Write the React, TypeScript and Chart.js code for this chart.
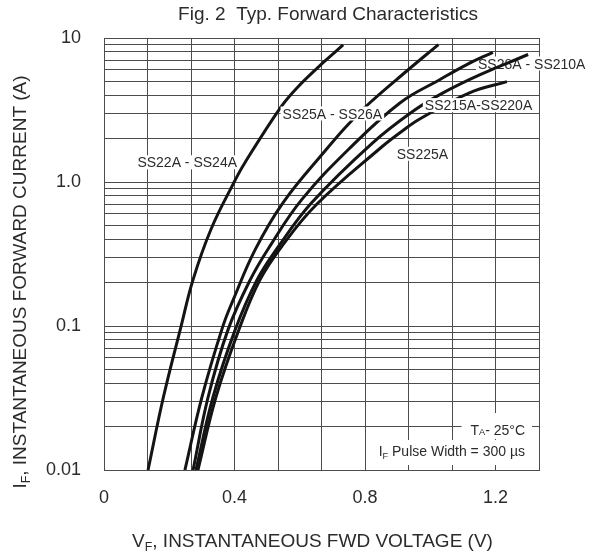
import { useEffect, useRef } from 'react';
import { Chart, registerables } from 'chart.js';

Chart.register(...registerables);

const FONT = "'Liberation Sans', Arial, Helvetica, sans-serif";
const INK = '#2b2b2b';
const GRID = '#4c4c4c';
const CURVE = '#141414';

// ---- axes ----
const xMax = 4 / 3; // 10 grid divisions of 0.1333 V
const xGridDivisions = 10;
const xTickLabels = ['0', '0.4', '0.8', '1.2']; // every 3rd grid line
const yMin = 0.01;
const yMax = 10;
const yDecadeLabels = ['0.01', '0.1', '1.0', '10'];

// ---- series (V, A) ----
const ss22Volts = [0.135, 0.182, 0.236, 0.273, 0.328, 0.398, 0.43, 0.542, 0.592, 0.668, 0.733];
const ss22Amps = [0.01, 0.032, 0.099, 0.21, 0.47, 0.99, 1.34, 3.31, 4.52, 6.63, 8.95];

const ss25Volts = [0.248, 0.3, 0.364, 0.396, 0.463, 0.549, 0.683, 0.744, 0.815, 0.928, 1.025];
const ss25Amps = [0.01, 0.032, 0.099, 0.152, 0.338, 0.72, 1.7, 2.45, 3.55, 5.9, 9.0];

const ss28Volts = [0.273, 0.319, 0.38, 0.448, 0.509, 0.606, 0.749, 0.907, 1.03, 1.112, 1.192];
const ss28Amps = [0.01, 0.032, 0.094, 0.209, 0.36, 0.754, 1.68, 3.54, 5.15, 6.54, 7.96];

const ss215Volts = [0.282, 0.334, 0.402, 0.469, 0.536, 0.637, 0.821, 0.947, 1.039, 1.153, 1.3];
const ss215Amps = [0.01, 0.032, 0.094, 0.209, 0.36, 0.72, 1.85, 3.1, 4.16, 5.57, 7.68];

const ss225Volts = [0.288, 0.343, 0.414, 0.478, 0.546, 0.652, 0.851, 0.907, 0.969, 1.122, 1.235];
const ss225Amps = [0.01, 0.032, 0.095, 0.209, 0.36, 0.7, 1.75, 2.2, 2.75, 4.18, 4.98];

const seriesNames = ['SS22A - SS24A', 'SS25A - SS26A', 'SS28A - SS210A', 'SS215A-SS220A', 'SS225A'];
const seriesVolts = [ss22Volts, ss25Volts, ss28Volts, ss215Volts, ss225Volts];
const seriesAmps = [ss22Amps, ss25Amps, ss28Amps, ss215Amps, ss225Amps];

// curve label anchors in data units (V, A)
const labelVolts = [0.255, 0.7, 1.311, 1.148, 0.976];
const labelAmps = [1.37, 2.99, 6.65, 3.42, 1.57];
const labelInFront = [false, true, false, true, false];

type Seg = { t: string; k?: 'sub' | 'small' };

const titleText: Seg[] = [{ t: 'Fig. 2  Typ. Forward Characteristics' }];
const yTitle: Seg[] = [{ t: 'I' }, { t: 'F', k: 'sub' }, { t: ', INSTANTANEOUS FORWARD CURRENT (A)' }];
const xTitle: Seg[] = [{ t: 'V' }, { t: 'F', k: 'sub' }, { t: ', INSTANTANEOUS FWD VOLTAGE (V)' }];
const noteTemp: Seg[] = [{ t: 'T' }, { t: 'A', k: 'small' }, { t: '- 25°C' }];
const notePulse: Seg[] = [{ t: 'I' }, { t: 'F', k: 'sub' }, { t: ' Pulse Width = 300 µs' }];

function segFont(size: number, k?: string) {
  return `${k ? size * 0.65 : size}px ${FONT}`;
}
function measureRich(ctx: CanvasRenderingContext2D, segs: Seg[], size: number) {
  let w = 0;
  for (const s of segs) {
    ctx.font = segFont(size, s.k);
    w += ctx.measureText(s.t).width;
  }
  return w;
}
function drawRich(
  ctx: CanvasRenderingContext2D,
  segs: Seg[],
  x: number,
  yMid: number,
  size: number,
  align: 'left' | 'center' | 'right',
  bg?: { l: number; r: number; t: number; b: number }
) {
  const w = measureRich(ctx, segs, size);
  let cx = align === 'left' ? x : align === 'center' ? x - w / 2 : x - w;
  if (bg) {
    ctx.fillStyle = '#ffffff';
    ctx.fillRect(cx - bg.l, yMid - bg.t, w + bg.l + bg.r, bg.t + bg.b);
  }
  const base = yMid + size * 0.358;
  ctx.fillStyle = INK;
  ctx.textAlign = 'left';
  ctx.textBaseline = 'alphabetic';
  for (const s of segs) {
    ctx.font = segFont(size, s.k);
    const dy = s.k === 'sub' ? size * 0.2 : s.k === 'small' ? size * 0.03 : 0;
    ctx.fillText(s.t, cx, base + dy);
    cx += ctx.measureText(s.t).width;
  }
}

function drawCurveLabels(chart: Chart, front: boolean) {
  const ctx = chart.ctx;
  const xs = chart.scales.x;
  const ys = chart.scales.y;
  ctx.save();
  seriesNames.forEach((name, i) => {
    if (labelInFront[i] !== front) return;
    const px = xs.getPixelForValue(labelVolts[i]);
    const py = ys.getPixelForValue(labelAmps[i]);
    drawRich(ctx, [{ t: name }], px, py, 14, 'center', { l: 2, r: 2, t: 7, b: 7 });
  });
  if (!front) {
    const area = chart.chartArea;
    const right = area.right - 14;
    drawRich(ctx, notePulse, right, area.bottom - 19, 14, 'right', { l: 12, r: 7, t: 11, b: 14 });
    drawRich(ctx, noteTemp, right, area.bottom - 40, 14, 'right', { l: 9, r: 7, t: 17, b: 9 });
  }
  ctx.restore();
}

const textPlugin = {
  id: 'figText',
  beforeDatasetsDraw(chart: Chart) {
    drawCurveLabels(chart, false);
  },
  afterDatasetsDraw(chart: Chart) {
    drawCurveLabels(chart, true);
  },
  afterDraw(chart: Chart) {
    const ctx = chart.ctx;
    ctx.save();
    drawRich(ctx, titleText, 328, 13.5, 19, 'center');
    drawRich(ctx, xTitle, 312.5, 540.5, 19, 'center');
    ctx.translate(19.5, 282);
    ctx.rotate(-Math.PI / 2);
    drawRich(ctx, yTitle, 0, 0, 19, 'center');
    ctx.restore();
  },
};

export default function App() {
  const ref = useRef<HTMLCanvasElement | null>(null);

  useEffect(() => {
    if (!ref.current) return;
    const datasets = seriesNames.map((name, i) => ({
      label: name,
      data: seriesVolts[i].map((v, j) => ({ x: v, y: seriesAmps[i][j] })),
      borderColor: CURVE,
      borderWidth: 3,
      pointRadius: 0,
      fill: false,
      tension: 0.4,
    }));

    const chart = new Chart(ref.current, {
      type: 'line',
      data: { datasets },
      options: {
        animation: false,
        responsive: false,
        maintainAspectRatio: false,
        layout: { padding: { left: 0, right: 59, top: 38, bottom: 0 } },
        plugins: {
          legend: { display: false },
          tooltip: { enabled: false },
          title: { display: false },
        },
        scales: {
          x: {
            type: 'linear',
            min: 0,
            max: xMax,
            afterBuildTicks: (scale: any) => {
              scale.ticks = Array.from({ length: xGridDivisions + 1 }, (_, k) => ({
                value: (k * xMax) / xGridDivisions,
              }));
            },
            afterFit: (scale: any) => {
              scale.height = 86;
            },
            grid: { color: GRID, lineWidth: 1, drawTicks: false },
            border: { display: true, color: GRID, width: 1 },
            ticks: {
              autoSkip: false,
              maxRotation: 0,
              padding: 17,
              color: INK,
              font: { family: FONT, size: 18 },
              callback: (_v: any, index: number) => (index % 3 === 0 ? xTickLabels[index / 3] ?? '' : ''),
            },
          },
          y: {
            type: 'logarithmic',
            min: yMin,
            max: yMax,
            afterBuildTicks: (scale: any) => {
              const t: { value: number }[] = [];
              for (let e = -2; e <= 0; e++) {
                for (let m = 1; m <= 9; m++) t.push({ value: parseFloat((m * Math.pow(10, e)).toPrecision(6)) });
              }
              t.push({ value: yMax });
              scale.ticks = t;
            },
            afterFit: (scale: any) => {
              scale.width = 104;
            },
            grid: { color: GRID, lineWidth: 1, drawTicks: false },
            border: { display: true, color: GRID, width: 1 },
            ticks: {
              autoSkip: false,
              padding: 23,
              color: INK,
              font: { family: FONT, size: 18 },
              callback: (v: any) => {
                const l = Math.log10(Number(v));
                const r = Math.round(l);
                return Math.abs(l - r) < 1e-6 ? yDecadeLabels[r + 2] ?? '' : '';
              },
            },
          },
        },
      },
      plugins: [textPlugin],
    });
    return () => chart.destroy();
  }, []);

  return (
    <div style={{ position: 'fixed', left: 0, top: 0, width: 598, height: 556, background: '#fff' }}>
      <canvas ref={ref} width={598} height={556} style={{ display: 'block' }} />
    </div>
  );
}
